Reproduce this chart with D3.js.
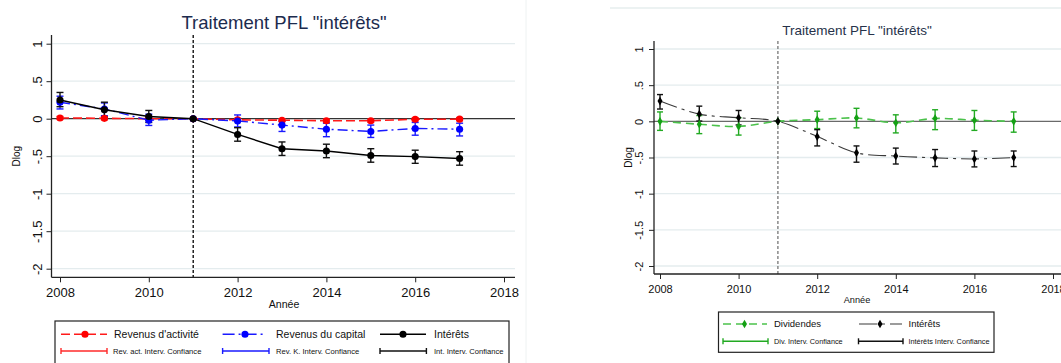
<!DOCTYPE html>
<html>
<head>
<meta charset="utf-8">
<script src="https://cdn.jsdelivr.net/npm/d3@7"></script>
<style>
  body { margin: 0; background: #fff; }
  svg { display: block; font-family: "Liberation Sans", Arial, sans-serif; }
</style>
</head>
<body>
<svg id="chart" width="1061" height="363"></svg>
<script>
// ---- data ----
const years = [2008, 2009, 2010, 2011, 2012, 2013, 2014, 2015, 2016, 2017];
const xTicks = [2008, 2010, 2012, 2014, 2016, 2018];
const yTicks = [1, 0.5, 0, -0.5, -1, -1.5, -2];
const yTickLabels = ["1", ".5", "0", "-.5", "-1", "-1.5", "-2"];
const reformYear = 2011;
const titleText = "Traitement PFL \"intérêts\"";
const xTitle = "Année";
const yTitle = "Dlog";

// left panel: labour income, capital income, interest
const revActivite     = [0.01, 0.005, 0.0, 0, -0.015, -0.02, -0.027, -0.027, -0.008, -0.006];
const revActiviteLow  = [-0.01, -0.015, -0.02, 0, -0.035, -0.04, -0.047, -0.047, -0.028, -0.026];
const revActiviteHigh = [0.03, 0.025, 0.02, 0, 0.005, 0.0, -0.007, -0.007, 0.012, 0.014];

const revCapital      = [0.22, 0.13, -0.02, 0, -0.03, -0.085, -0.14, -0.17, -0.13, -0.14];
const revCapitalLow   = [0.13, 0.04, -0.09, 0, -0.11, -0.17, -0.24, -0.25, -0.22, -0.23];
const revCapitalHigh  = [0.30, 0.21, 0.06, 0, 0.05, -0.03, -0.06, -0.085, -0.05, -0.06];

const interets        = [0.25, 0.12, 0.03, 0, -0.21, -0.40, -0.43, -0.49, -0.505, -0.53];
const interetsLow     = [0.16, 0.02, -0.05, 0, -0.30, -0.49, -0.52, -0.58, -0.595, -0.62];
const interetsHigh    = [0.35, 0.22, 0.11, 0, -0.12, -0.31, -0.34, -0.40, -0.42, -0.44];

// right panel: dividends, interest
const dividendes      = [0.0, -0.04, -0.07, 0, 0.023, 0.046, -0.02, 0.04, 0.015, 0.0];
const dividendesLow   = [-0.125, -0.17, -0.19, 0, -0.10, -0.09, -0.16, -0.115, -0.125, -0.15];
const dividendesHigh  = [0.13, 0.08, 0.05, 0, 0.14, 0.18, 0.09, 0.16, 0.15, 0.13];

const interetsB       = [0.28, 0.10, 0.05, 0, -0.21, -0.435, -0.48, -0.505, -0.52, -0.50];
const interetsBLow    = [0.17, 0.004, -0.05, 0, -0.34, -0.565, -0.59, -0.625, -0.63, -0.625];
const interetsBHigh   = [0.37, 0.21, 0.15, 0, -0.115, -0.34, -0.37, -0.39, -0.41, -0.41];

const leftLegendLabels  = ["Revenus d'activité", "Revenus du capital", "Intérêts"];
const leftCiLabels      = ["Rev. act. Interv. Confiance", "Rev. K. Interv. Confiance", "Int. Interv. Confiance"];
const rightLegendLabels = ["Dividendes", "Intérêts"];
const rightCiLabels     = ["Div. Interv. Confiance", "Intérêts Interv. Confiance"];

// ---- helpers ----
const svg = d3.select("#chart");
const zip = (v, lo, hi) => years.map((yr, i) => ({ year: yr, v: v[i], lo: lo[i], hi: hi[i] }));

function drawPanel(p) {
  const g = svg.append("g");
  const x = d3.scaleLinear().domain([2008, 2018]).range(p.xRange);
  const y = d3.scaleLinear().domain([-2, 1]).range(p.yRange);
  const [ax0, ax1] = p.axisX;      // extent of the horizontal axis line
  const [ay0, ay1] = p.axisY;      // extent of the vertical axis line

  // grid
  g.append("g").selectAll("line").data(yTicks.filter(t => t !== 0)).join("line")
    .attr("x1", ax0).attr("x2", p.gridEnd)
    .attr("y1", d => y(d)).attr("y2", d => y(d))
    .attr("stroke", "#e4ecee").attr("stroke-width", 1.3);

  // zero line
  g.append("line").attr("x1", ax0).attr("x2", p.gridEnd)
    .attr("y1", y(0)).attr("y2", y(0))
    .attr("stroke", p.zeroColor).attr("stroke-width", 1.2);

  // reform line
  g.append("line").attr("x1", x(reformYear)).attr("x2", x(reformYear))
    .attr("y1", ay0).attr("y2", ay1)
    .attr("stroke", p.refColor).attr("stroke-width", 1.3).attr("stroke-dasharray", "3,2");

  // axes
  const yAxis = g.append("g").attr("transform", `translate(${ax0},0)`)
    .call(d3.axisLeft(y).tickValues(yTicks).tickFormat((d, i) => yTickLabels[i]).tickSize(5).tickSizeOuter(0));
  yAxis.select(".domain").remove();
  yAxis.selectAll(".tick line").attr("stroke", "#222");
  yAxis.selectAll(".tick text")
    .attr("x", 0).attr("dy", "0.35em")
    .attr("text-anchor", "middle")
    .attr("transform", `translate(${-p.yLabelOff},0) rotate(-90)`)
    .attr("font-size", p.tickFont).attr("fill", "#111")
    .attr("font-family", "Liberation Sans, Arial, sans-serif");

  const xAxis = g.append("g").attr("transform", `translate(0,${ay1})`)
    .call(d3.axisBottom(x).tickValues(xTicks).tickFormat(d3.format("d")).tickSize(5).tickPadding(p.xPad).tickSizeOuter(0));
  xAxis.select(".domain").remove();
  xAxis.selectAll(".tick line").attr("stroke", "#222");
  xAxis.selectAll(".tick text").attr("font-size", p.tickFont).attr("fill", "#111")
    .attr("font-family", "Liberation Sans, Arial, sans-serif");

  g.append("line").attr("x1", ax0).attr("x2", ax0).attr("y1", ay0).attr("y2", ay1)
    .attr("stroke", "#222").attr("stroke-width", 1.3);
  g.append("line").attr("x1", ax0).attr("x2", ax1).attr("y1", ay1).attr("y2", ay1)
    .attr("stroke", "#222").attr("stroke-width", 1.3);

  // titles
  g.append("text").attr("x", p.titleX).attr("y", p.titleY).attr("dy", "0.35em")
    .attr("text-anchor", "middle").attr("font-size", p.titleFont).attr("fill", p.titleColor)
    .text(titleText);
  g.append("text").attr("x", p.titleX).attr("y", p.xTitleY).attr("dy", "0.35em")
    .attr("text-anchor", "middle").attr("font-size", p.xTitleFont).attr("fill", "#111")
    .text(xTitle);
  g.append("text").attr("transform", `translate(${p.yTitleX},${(ay0 + ay1) / 2}) rotate(-90)`)
    .attr("dy", "0.35em").attr("text-anchor", "middle").attr("font-size", p.yTitleFont).attr("fill", "#111")
    .text(yTitle);

  // confidence intervals first, then lines and markers
  p.series.forEach(s => {
    const data = zip(s.values, s.low, s.high);
    const ci = g.append("g").attr("stroke", s.ciColor).attr("stroke-width", 1.4);
    ci.selectAll(".v").data(data).join("line")
      .attr("x1", d => x(d.year)).attr("x2", d => x(d.year))
      .attr("y1", d => y(d.lo)).attr("y2", d => y(d.hi));
    ci.selectAll(".t").data(data).join("line")
      .attr("x1", d => x(d.year) - p.cap).attr("x2", d => x(d.year) + p.cap)
      .attr("y1", d => y(d.hi)).attr("y2", d => y(d.hi));
    ci.selectAll(".b").data(data).join("line")
      .attr("x1", d => x(d.year) - p.cap).attr("x2", d => x(d.year) + p.cap)
      .attr("y1", d => y(d.lo)).attr("y2", d => y(d.lo));
  });
  p.series.forEach(s => {
    const data = zip(s.values, s.low, s.high);
    const line = d3.line().x(d => x(d.year)).y(d => y(d.v)).curve(p.curve);
    g.append("path").datum(data).attr("d", line)
      .attr("fill", "none").attr("stroke", s.lineColor).attr("stroke-width", s.lineWidth)
      .attr("stroke-dasharray", s.dash);
    g.append("g").selectAll("path").data(data).join("path")
      .attr("transform", d => `translate(${x(d.year)},${y(d.v)})`)
      .attr("d", d3.symbol().type(s.symbol).size(s.symbolSize))
      .attr("fill", s.markerColor);
  });

  // legend
  const L = p.legend;
  g.append("rect").attr("x", L.x0).attr("y", L.y0).attr("width", L.x1 - L.x0).attr("height", L.y1 - L.y0)
    .attr("fill", "#fff").attr("stroke", "#222").attr("stroke-width", 1.2);
  p.series.forEach((s, i) => {
    const c = L.cols[i];
    g.append("line").attr("x1", c.l0).attr("x2", c.l1).attr("y1", L.row1).attr("y2", L.row1)
      .attr("stroke", s.lineColor).attr("stroke-width", s.lineWidth).attr("stroke-dasharray", s.legendDash);
    g.append("path").attr("transform", `translate(${c.m},${L.row1})`)
      .attr("d", d3.symbol().type(s.symbol).size(s.symbolSize)).attr("fill", s.markerColor);
    g.append("text").attr("x", c.t1).attr("y", L.row1).attr("dy", "0.35em")
      .attr("font-size", L.font1).attr("fill", "#111").text(s.label);
    g.append("line").attr("x1", c.c0).attr("x2", c.c1).attr("y1", L.row2).attr("y2", L.row2)
      .attr("stroke", s.ciColor).attr("stroke-width", 1.4);
    [c.c0, c.c1].forEach(cx => g.append("line").attr("x1", cx).attr("x2", cx)
      .attr("y1", L.row2 - 3).attr("y2", L.row2 + 3).attr("stroke", s.ciColor).attr("stroke-width", 1.4));
    g.append("text").attr("x", c.t2).attr("y", L.row2).attr("dy", "0.35em")
      .attr("font-size", L.font2).attr("fill", "#111").text(s.ciLabel);
  });
}

// faint frame lines of the two graph regions
svg.append("line").attr("x1", 526).attr("x2", 526).attr("y1", 0).attr("y2", 363)
  .attr("stroke", "#eef2f2").attr("stroke-width", 1);
svg.append("line").attr("x1", 610).attr("x2", 1061).attr("y1", 8).attr("y2", 8)
  .attr("stroke", "#e6eeee").attr("stroke-width", 1.3);

drawPanel({
  xRange: [60, 504], yRange: [268.7, 43.7],
  axisX: [51.5, 515], axisY: [35, 277.3], gridEnd: 515,
  zeroColor: "#333", refColor: "#000",
  tickFont: 13, yLabelOff: 14, xPad: 5.5,
  titleX: 284, titleY: 23, titleFont: 18.5, titleColor: "#1c2b4e",
  xTitleY: 304, xTitleFont: 10.6, yTitleX: 16.5, yTitleFont: 10,
  cap: 3.5, curve: d3.curveLinear,
  series: [
    { values: revActivite, low: revActiviteLow, high: revActiviteHigh,
      lineColor: "#ff1a1a", markerColor: "#ff0000", ciColor: "#ff2a2a", lineWidth: 1.6,
      dash: "9,4", legendDash: "9,4", symbol: d3.symbolCircle, symbolSize: 40,
      label: leftLegendLabels[0], ciLabel: leftCiLabels[0] },
    { values: revCapital, low: revCapitalLow, high: revCapitalHigh,
      lineColor: "#1a1aff", markerColor: "#0000ff", ciColor: "#1a1aff", lineWidth: 1.4,
      dash: "10,4,2,4", legendDash: "12,4,2,4", symbol: d3.symbolCircle, symbolSize: 40,
      label: leftLegendLabels[1], ciLabel: leftCiLabels[1] },
    { values: interets, low: interetsLow, high: interetsHigh,
      lineColor: "#000", markerColor: "#000", ciColor: "#111", lineWidth: 1.4,
      dash: null, legendDash: null, symbol: d3.symbolCircle, symbolSize: 40,
      label: leftLegendLabels[2], ciLabel: leftCiLabels[2] }
  ],
  legend: {
    x0: 55, x1: 509, y0: 321, y1: 380, row1: 334.3, row2: 351,
    font1: 10.5, font2: 7.6,
    cols: [
      { l0: 61, l1: 107, m: 85, t1: 114, c0: 61, c1: 107, t2: 113 },
      { l0: 222.6, l1: 265, m: 245, t1: 276, c0: 222.6, c1: 269, t2: 276 },
      { l0: 380, l1: 426, m: 403, t1: 434, c0: 380, c1: 426.4, t2: 434 }
    ]
  }
});

drawPanel({
  xRange: [660, 1053], yRange: [266, 49],
  axisX: [654, 1061], axisY: [41, 274], gridEnd: 1061,
  zeroColor: "#6a6a6a", refColor: "#777",
  tickFont: 11, yLabelOff: 15, xPad: 6,
  titleX: 857, titleY: 30, titleFont: 13.5, titleColor: "#26324a",
  xTitleY: 299.5, xTitleFont: 9.2, yTitleX: 628, yTitleFont: 10,
  cap: 3, curve: d3.curveCatmullRom.alpha(0.5),
  series: [
    { values: dividendes, low: dividendesLow, high: dividendesHigh,
      lineColor: "#4cc24c", markerColor: "#14a014", ciColor: "#22aa22", lineWidth: 1.6,
      dash: "8,5", legendDash: "8,5", symbol: d3.symbolDiamond, symbolSize: 22,
      label: rightLegendLabels[0], ciLabel: rightCiLabels[0] },
    { values: interetsB, low: interetsBLow, high: interetsBHigh,
      lineColor: "#3a3a3a", markerColor: "#000", ciColor: "#111", lineWidth: 1.1,
      dash: "18,5,3,5", legendDash: "18,5,3,5", symbol: d3.symbolDiamond, symbolSize: 22,
      label: rightLegendLabels[1], ciLabel: rightCiLabels[1] }
  ],
  legend: {
    x0: 718.5, x1: 994, y0: 312, y1: 352.3, row1: 324, row2: 341.3,
    font1: 9.5, font2: 7.3,
    cols: [
      { l0: 723, l1: 767, m: 744.5, t1: 774, c0: 723, c1: 768, t2: 774 },
      { l0: 859, l1: 902, m: 880, t1: 908.5, c0: 858.5, c1: 903, t2: 908.5 }
    ]
  }
});
</script>
</body>
</html>
